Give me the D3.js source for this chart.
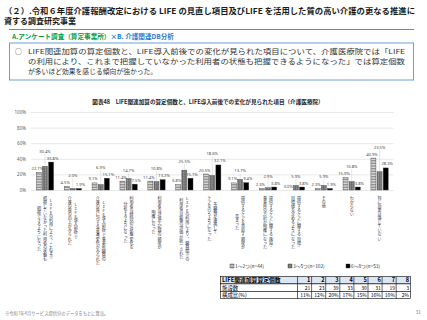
<!DOCTYPE html>
<html>
<head>
<meta charset="utf-8">
<script src="https://cdn.jsdelivr.net/npm/d3@7"></script>
<style>
body { margin: 0; background: #fff; }
svg { font-family: "Noto Sans CJK JP", "Noto Sans", sans-serif; }
.vt { writing-mode: vertical-rl; text-orientation: upright; }
</style>
</head>
<body>
<div id="chart-area"></div>
<script>
// categories (each one is a list of vertical columns, right to left)
var categories = [
	["ＬＩＦＥの利用により、これまで", "把握していなかった利用者の状態も", "把握できるようになった"],
	["ＬＩＦＥ導入前後で", "介護の質の向上がみられた"],
	["ＬＩＦＥ導入前後で事業所職員の", "介護の質に対する意識変化がみられた"],
	["利用者の経時的な状態変化を", "分析するようになった"],
	["利用者の評価や記録の頻度が", "明確になった"],
	["ＬＩＦＥの利用により、職員間での", "利用者の状態の評価が統一された"],
	["多職種が連携して", "ケアを行うようになった"],
	["提供するケアを見直す頻度が", "高まった"],
	["提供するケアに関する施設・", "事業所の方針が明確になった"],
	["提供するケアに関する目標・", "目標値を定めるようになった"],
	["その他"],
	["わからない"],
	["特に効果は感じていない"]
];

var seriesNames = ["1～2つ(n=44)", "3～5つ(n=102)", "6～8つ(n=53)"];
var vals1 = [22.7, 4.5, 9.1, 11.4, 11.4, 6.8, 20.5, 9.1, 2.3, 0.0, 2.3, 15.9, 40.9];
var vals2 = [30.4, 2.0, 6.9, 14.7, 10.8, 25.5, 18.6, 13.7, 2.9, 5.9, 5.9, 10.8, 23.5];
var vals3 = [35.8, 1.9, 15.1, 7.5, 13.2, 15.1, 32.1, 9.4, 3.8, 3.8, 1.9, 3.8, 28.3];
var yTicks = [0, 20, 40, 60, 80, 100];

// table under the chart
var tableHead = "LIFE関連加算算定個数";
var tableCounts = [1, 2, 3, 4, 5, 6, 7, 8];
var tableFacilities = [21, 23, 39, 33, 30, 31, 19, 3];
var tableShares = ["11%", "12%", "20%", "17%", "15%", "16%", "10%", "2%"];

var width = 427,
	height = 320;

var svg = d3.select("#chart-area").append("svg")
	.attr("width", width).attr("height", height);

svg.append("rect").attr("width", width).attr("height", height).attr("fill", "#fff");

// patterns for the two grey series
var defs = svg.append("defs");
var hz = defs.append("pattern").attr("id", "hz").attr("patternUnits", "userSpaceOnUse")
	.attr("width", 4).attr("height", 1.6);
hz.append("rect").attr("width", 4).attr("height", 1.6).attr("fill", "#e0e0e0");
hz.append("rect").attr("width", 4).attr("height", 0.6).attr("fill", "#6b6b6b");
var vtp = defs.append("pattern").attr("id", "vtp").attr("patternUnits", "userSpaceOnUse")
	.attr("width", 1.6).attr("height", 1.6);
vtp.append("rect").attr("width", 1.6).attr("height", 1.6).attr("fill", "#9a9a9a");
vtp.append("rect").attr("width", 0.6).attr("height", 1.6).attr("fill", "#555");
vtp.append("rect").attr("width", 1.6).attr("height", 0.5).attr("fill", "#6e6e6e");
var fills = ["url(#hz)", "url(#vtp)", "#000"];

// page header
svg.append("text").attr("x", 4).attr("y", 14)
	.attr("font-size", 8).attr("font-weight", "bold").attr("fill", "#1a1a1a")
	.attr("textLength", 411).attr("lengthAdjust", "spacingAndGlyphs")
	.text("（２）.令和６年度介護報酬改定における LIFE の見直し項目及びLIFE を活用した質の高い介護の更なる推進に");
svg.append("text").attr("x", 4).attr("y", 23.5)
	.attr("font-size", 8).attr("font-weight", "bold").attr("fill", "#1a1a1a")
	.text("資する調査研究事業");
svg.append("line").attr("x1", 9).attr("x2", 414).attr("y1", 29.5).attr("y2", 29.5)
	.attr("stroke", "#2e75b6").attr("stroke-width", 0.8);

var sub = svg.append("text").attr("x", 12).attr("y", 38.5)
	.attr("font-size", 6.6).attr("font-weight", "bold");
sub.append("tspan").attr("fill", "#00a04b").text("A.アンケート調査（算定事業所）");
sub.append("tspan").attr("fill", "#1f7ad1").text("×B. 介護関連DB分析");

// summary box
svg.append("rect").attr("x", 9.5).attr("y", 43).attr("width", 404).attr("height", 37)
	.attr("fill", "#fff").attr("stroke", "#6a9fd8").attr("stroke-width", 1);
svg.append("text").attr("x", 15).attr("y", 53.5).attr("font-size", 6.8).attr("fill", "#333").text("○");
var boxLines = [
	"LIFE関連加算の算定個数と、LIFE導入前後での変化が見られた項目について、介護医療院では「LIFE",
	"の利用により、これまで把握していなかった利用者の状態も把握できるようになった」では算定個数",
	"が多いほど効果を感じる傾向が強かった。"
];
svg.selectAll(".boxline").data(boxLines).enter().append("text")
	.attr("class", "boxline")
	.attr("x", 28)
	.attr("y", function(d, i) { return 53.5 + i * 10; })
	.attr("font-size", 6.8).attr("fill", "#333")
	.attr("textLength", function(d, i) { return i < 2 ? 377 : null; })
	.attr("lengthAdjust", "spacingAndGlyphs")
	.text(function(d) { return d; });

// chart title
svg.append("text").attr("x", 208).attr("y", 103.5).attr("text-anchor", "middle")
	.attr("font-size", 5.6).attr("font-weight", "bold").attr("fill", "#222")
	.text("図表48　LIFE関連加算の算定個数と、LIFE導入前後での変化が見られた項目（介護医療院）");

// scales
var x = d3.scaleBand().domain(d3.range(categories.length))
	.range([31, 393.5]).paddingInner(0.38).paddingOuter(0.19);
var xSub = d3.scaleBand().domain([0, 1, 2]).range([0, x.bandwidth()]).paddingInner(0.18);
var y = d3.scaleLinear().domain([0, 100]).range([190, 112]);

// y axis with gridlines
var yAxis = d3.axisLeft(y).tickValues(yTicks).tickSize(-(393.5 - 31))
	.tickFormat(function(d) { return d + "%"; });
var yg = svg.append("g").attr("transform", "translate(31,0)").call(yAxis);
yg.select(".domain").remove();
yg.selectAll(".tick line").attr("stroke", "#d9d9d9").attr("stroke-width", 0.6);
yg.selectAll(".tick text").attr("font-size", 4.5).attr("fill", "#595959").attr("x", -5)
	.attr("font-family", "\"Noto Sans\", sans-serif");

// bars
var rows = categories.map(function(c, i) {
	return [vals1[i], vals2[i], vals3[i]];
});
var groups = svg.selectAll(".grp").data(rows).enter().append("g")
	.attr("class", "grp")
	.attr("transform", function(d, i) { return "translate(" + x(i) + ",0)"; });

groups.selectAll("rect").data(function(d) { return d; }).enter().append("rect")
	.attr("x", function(d, j) { return xSub(j); })
	.attr("y", function(d) { return y(d); })
	.attr("width", xSub.bandwidth())
	.attr("height", function(d) { return y(0) - y(d); })
	.attr("fill", function(d, j) { return fills[j]; })
	.attr("stroke", "#404040").attr("stroke-width", 0.4);

// data labels: outer ones just above their bars, middle one lifted with a leader line
groups.each(function(d) {
	var g = d3.select(this);
	var bw = xSub.bandwidth();
	var low = Math.min(y(d[0]), y(d[1]), y(d[2])) - 4;
	var spots = [
		{ lx: xSub(0) + bw / 2 - 1.5, ly: y(d[0]) - 2.5 },
		{ lx: xSub(1) + bw / 2, ly: Math.min(y(d[0]), y(d[2])) - 9.5 },
		{ lx: xSub(2) + bw / 2 + 1.5, ly: y(d[2]) - 2.5 }
	];
	spots[1].ly = Math.min(spots[1].ly, low - 3);
	d.forEach(function(v, j) {
		var bx = xSub(j) + bw / 2;
		if (j == 1 && y(v) - spots[j].ly > 6) {
			g.append("line")
				.attr("x1", bx).attr("y1", y(v) - 0.5)
				.attr("x2", spots[j].lx).attr("y2", spots[j].ly + 1)
				.attr("stroke", "#bfbfbf").attr("stroke-width", 0.4);
		}
		g.append("text")
			.attr("x", spots[j].lx).attr("y", spots[j].ly)
			.attr("text-anchor", "middle")
			.attr("font-size", 4.1).attr("fill", "#404040")
			.attr("font-family", "\"Noto Sans\", sans-serif")
			.text(v.toFixed(1) + "%");
	});
});

// vertical category labels
var step = 4.05, colGap = 6, labelTop = 196.5;
var labs = svg.selectAll(".lab").data(categories).enter().append("g")
	.attr("class", "lab")
	.attr("transform", function(d, i) { return "translate(" + (x(i) + x.bandwidth() / 2) + ",0)"; });
labs.each(function(cols) {
	var maxLen = d3.max(cols, function(c) { return c.length; });
	var mid = labelTop + maxLen * step / 2;
	d3.select(this).selectAll("text").data(cols).enter().append("text")
		.attr("class", "vt")
		.attr("x", function(c, j) { return ((cols.length - 1) / 2 - j) * colGap; })
		.attr("y", mid)
		.attr("text-anchor", "middle")
		.attr("font-size", step).attr("fill", "#333")
		.text(function(c) { return c; });
});

// legend
var legend = svg.selectAll(".leg").data(seriesNames).enter().append("g")
	.attr("class", "leg")
	.attr("transform", function(d, i) { return "translate(" + (230 + i * 58) + ",264)"; });
legend.append("rect").attr("width", 4).attr("height", 4)
	.attr("fill", function(d, i) { return fills[i]; })
	.attr("stroke", "#404040").attr("stroke-width", 0.4);
legend.append("text").attr("x", 5).attr("y", 3.8)
	.attr("font-size", 4.8).attr("fill", "#333")
	.text(function(d) { return d; });

// table
var tx0 = 220.5, firstW = 77, cellW = 14.1, rowH = 7.4, ty0 = 276.5;
var tableRows = [
	{ head: tableHead, cells: tableCounts, bold: true, bg: "#dce6f2" },
	{ head: "施設数", cells: tableFacilities, bold: false, bg: "#fff" },
	{ head: "構成比(%)", cells: tableShares, bold: false, bg: "#fff" }
];
var tr = svg.selectAll(".trow").data(tableRows).enter().append("g")
	.attr("class", "trow")
	.attr("transform", function(d, i) { return "translate(" + tx0 + "," + (ty0 + i * rowH) + ")"; });
tr.append("rect").attr("width", firstW + cellW * 8).attr("height", rowH)
	.attr("fill", function(d) { return d.bg; })
	.attr("stroke", "#000").attr("stroke-width", 0.6);
tr.append("text").attr("x", 1.5).attr("y", rowH - 1.6)
	.attr("font-size", function(d) { return d.bold ? 5.8 : 5.4; })
	.attr("font-weight", function(d) { return d.bold ? "bold" : "normal"; })
	.text(function(d) { return d.head; });
tr.each(function(d) {
	var g = d3.select(this);
	d.cells.forEach(function(c, k) {
		var cx = firstW + k * cellW;
		g.append("line").attr("x1", cx).attr("x2", cx).attr("y1", 0).attr("y2", rowH)
			.attr("stroke", "#000").attr("stroke-width", 0.6);
		g.append("text").attr("x", cx + cellW - 1.2).attr("y", rowH - 1.6)
			.attr("text-anchor", "end")
			.attr("font-size", d.bold ? 5.6 : 5)
			.attr("font-weight", d.bold ? "bold" : "normal")
			.text(c);
	});
});

// footnote and page number
svg.append("text").attr("x", 5).attr("y", 314.5)
	.attr("font-size", 4.3).attr("fill", "#7f7f7f")
	.text("※令和7年4月サービス提供分のデータをもとに算出。");
svg.append("text").attr("x", 421).attr("y", 313.5).attr("text-anchor", "end")
	.attr("font-size", 5).attr("fill", "#7f7f7f")
	.text("31");
</script>
</body>
</html>
